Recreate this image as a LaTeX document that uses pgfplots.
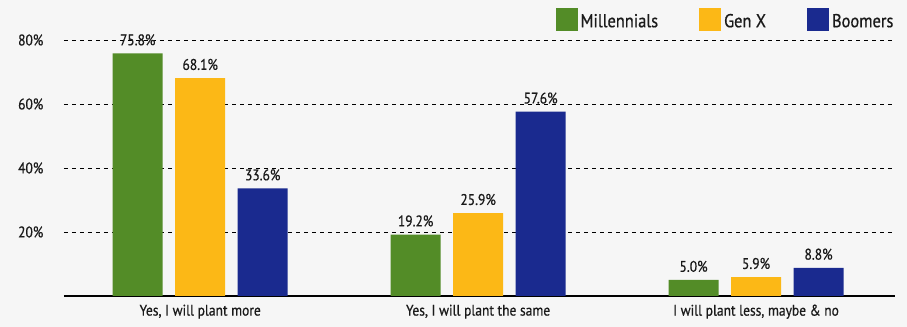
\documentclass[border=0pt]{standalone}
\usepackage{fontspec}
\setmainfont{PT Sans}[FakeStretch=0.88, FakeBold=0.6]
\usepackage{pgfplots}
\pgfplotsset{compat=1.18}
\definecolor{bg}{HTML}{F6F6F6}
\definecolor{cgreen}{HTML}{538C27}
\definecolor{cyellow}{HTML}{FCB816}
\definecolor{cblue}{HTML}{1A2A8F}
\definecolor{ctext}{HTML}{1A1A1A}
\begin{document}
\begin{tikzpicture}
\fill[bg] (-48pt,-23.25pt) rectangle (632.25pt,222pt);
\begin{axis}[
  scale only axis,
  width=623.25pt, height=222pt,
  ymin=0, ymax=92.5,
  xmin=-0.49, xmax=2.5,
  xtick={0,1,2},
  xticklabels={{Yes, I will plant more},{Yes, I will plant the same},{I will plant less, maybe \& no}},
  ytick={20,40,60,80},
  yticklabels={20\%,40\%,60\%,80\%},
  axis x line*=bottom,
  axis y line*=left,
  x axis line style={line width=1.6pt, -},
  y axis line style={draw=none},
  major tick length=0pt,
  ymajorgrids,
  grid style={dashed, black, line width=0.5pt},
  ybar=9.375pt,
  bar width=37.5pt,
  /pgf/number format/assume math mode=true,
  tick label style={font=\fontsize{11.5}{13}\selectfont, text=ctext},
  yticklabel style={xshift=-12pt},
  xticklabel style={yshift=-3pt},
  nodes near coords={\pgfmathprintnumber[fixed,fixed zerofill,precision=1]{\pgfplotspointmeta}\%},
  every node near coord/.append style={font=\fontsize{11.5}{13}\selectfont, text=ctext, yshift=2.5pt},
  legend columns=3,
  legend style={draw=none, fill=none, at={(rel axis cs:1,1)}, anchor=north east,
    font=\fontsize{14}{16}\selectfont, text=ctext, yshift=-4pt, xshift=4pt,
    /tikz/every even column/.append style={column sep=29pt}},
  legend image code/.code={\fill[#1] (0pt,-7pt) rectangle (16.5pt,10pt);},
]
\addplot[fill=cgreen, draw=none] coordinates {(0,75.8) (1,19.2) (2,5.0)};
\addplot[fill=cyellow, draw=none] coordinates {(0,68.1) (1,25.9) (2,5.9)};
\addplot[fill=cblue, draw=none] coordinates {(0,33.6) (1,57.6) (2,8.8)};
\legend{Millennials, Gen X, Boomers}
\end{axis}
\end{tikzpicture}
\end{document}
